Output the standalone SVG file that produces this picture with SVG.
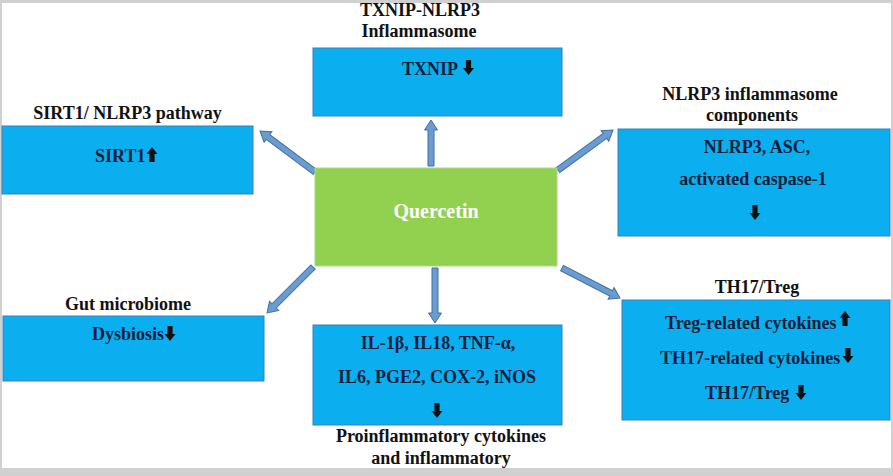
<svg xmlns="http://www.w3.org/2000/svg" width="893" height="476" viewBox="0 0 893 476">
<defs>
<style>
.box{fill:#0bafef;stroke:#3d7fb8;stroke-width:1}
.q{fill:#92d050;stroke:#a9d98a;stroke-width:1}
text{font-family:"Liberation Serif","Times New Roman",serif;font-weight:bold;font-size:18px}
.t{fill:#111111}
.in{fill:#0f1f3d}
.c{text-anchor:middle}
.conn path{fill:#6a9bd3;stroke:#41719c;stroke-width:1;stroke-linejoin:miter}
.ico{fill:#111111}
</style>
<path id="dn" d="M-2.6,0 H2.6 V8 H5.5 L0,15 L-5.5,8 H-2.6 Z"/>
<path id="up" d="M-2.6,15 H2.6 V7 H5.5 L0,0 L-5.5,7 H-2.6 Z"/>
</defs>
<rect x="0" y="0" width="893" height="476" fill="#d0d0d0"/>
<rect x="2" y="3" width="889" height="465" fill="#ffffff"/>

<g class="conn" id="connectors">
<path transform="translate(315,172) rotate(-143.3)" d="M0,-3 H58.6 V-6.5 L68.6,0 L58.6,6.5 V3 H0 Z"/>
<path transform="translate(431,166) rotate(-90)" d="M0,-3 H36 V-6.5 L46,0 L36,6.5 V3 H0 Z"/>
<path transform="translate(558,170) rotate(-36)" d="M0,-3 H58 V-6.5 L68,0 L58,6.5 V3 H0 Z"/>
<path transform="translate(313,267) rotate(135)" d="M0,-3 H55 V-6.5 L65,0 L55,6.5 V3 H0 Z"/>
<path transform="translate(435,268) rotate(90)" d="M0,-3 H45 V-6.5 L55,0 L45,6.5 V3 H0 Z"/>
<path transform="translate(562,268) rotate(27.35)" d="M0,-3 H55.3 V-6.5 L65.3,0 L55.3,6.5 V3 H0 Z"/>
</g>

<g id="quercetin">
<rect class="q" x="315" y="168" width="242" height="98"/>
<text class="c" x="436" y="218" fill="#ffffff" style="font-size:20px">Quercetin</text>
</g>

<g id="sirt1">
<text class="t c" x="127.5" y="119">SIRT1/ NLRP3 pathway</text>
<rect class="box" x="2" y="126" width="251" height="68"/>
<text class="in" x="95" y="162">SIRT1</text>
<use href="#up" class="ico" x="152" y="147"/>
</g>

<g id="txnip">
<text class="t c" x="420" y="16">TXNIP-NLRP3</text>
<text class="t c" x="419" y="37">Inflammasome</text>
<rect class="box" x="313" y="48" width="249" height="68"/>
<text class="in" x="402" y="75">TXNIP</text>
<use href="#dn" class="ico" x="468.5" y="60"/>
</g>

<g id="nlrp3">
<text class="t c" x="750" y="100">NLRP3 inflammasome</text>
<text class="t c" x="752" y="121">components</text>
<rect class="box" x="618" y="129" width="272" height="107"/>
<text class="in c" x="757" y="153">NLRP3, ASC,</text>
<text class="in c" x="753" y="185">activated caspase-1</text>
<use href="#dn" class="ico" x="755" y="205"/>
</g>

<g id="gut">
<text class="t c" x="128" y="310">Gut microbiome</text>
<rect class="box" x="3" y="316" width="261" height="65"/>
<text class="in" x="92" y="340">Dysbiosis</text>
<use href="#dn" class="ico" x="170" y="326"/>
</g>

<g id="proinflammatory">
<rect class="box" x="313" y="325" width="249" height="100"/>
<text class="in c" x="438" y="349">IL-1β, IL18, TNF-α,</text>
<text class="in c" x="437" y="383">IL6, PGE2, COX-2, iNOS</text>
<use href="#dn" class="ico" x="437" y="403"/>
<text class="t c" x="441" y="442">Proinflammatory cytokines</text>
<text class="t c" x="441" y="464">and inflammatory</text>
</g>

<g id="th17treg">
<text class="t c" x="757" y="293">TH17/Treg</text>
<rect class="box" x="622" y="300" width="268" height="120"/>
<text class="in" x="665" y="329">Treg-related cytokines</text>
<use href="#up" class="ico" x="845" y="311"/>
<text class="in" x="660" y="364">TH17-related cytokines</text>
<use href="#dn" class="ico" x="848" y="348"/>
<text class="in" x="705" y="399">TH17/Treg</text>
<use href="#dn" class="ico" x="801" y="385"/>
</g>
</svg>
